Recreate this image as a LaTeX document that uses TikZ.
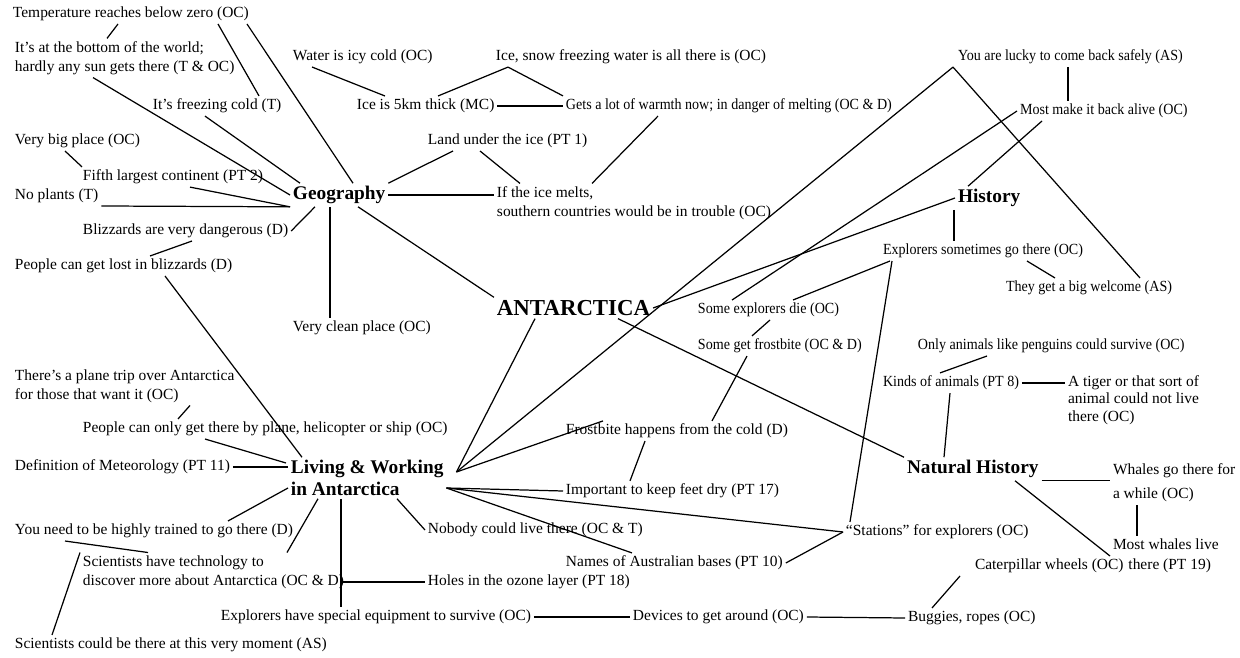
\documentclass[tikz,border=0pt]{standalone}
\usepackage{fontspec}
\setmainfont{Liberation Serif}
\newfontfamily\narrowserif[FakeStretch=0.91]{Liberation Serif}
\usetikzlibrary{calc}

\begin{document}
\begin{tikzpicture}[
  x=0.02cm, y=-0.02cm,
  idea/.style={anchor=west, inner sep=1.5pt, align=left, font=\fontsize{8.8}{10.8}\selectfont},
  slim/.style={idea, font=\narrowserif\fontsize{8.8}{10.8}\selectfont},
  topic/.style={idea, font=\fontsize{11}{12.5}\selectfont\bfseries},
  core/.style={idea, font=\fontsize{13}{15}\selectfont\bfseries},
  link/.style={line width=0.7pt},
]
\useasboundingbox (0,0) rectangle (1240,658);
% main topics
\node[core] (ant) at (494,308) {ANTARCTICA};
\node[topic] (geo) at (290,195) {Geography};
\node[topic] (hist) at (955,198) {History};
\node[topic] (liv) at (288,478) {Living \& Working\\in Antarctica};
\node[topic] (nat) at (904,469) {Natural History};
% geography
\node[idea] (t1) at (10,14) {Temperature reaches below zero (OC)};
\node[idea] (t2) at (12,58) {It's at the bottom of the world;\\hardly any sun gets there (T \& OC)};
\node[idea] (t3) at (150,106) {It's freezing cold (T)};
\node[idea] (t4) at (290,57) {Water is icy cold (OC)};
\node[idea] (t5) at (493,57) {Ice, snow freezing water is all there is (OC)};
\node[idea] (t6) at (354,106) {Ice is 5km thick (MC)};
\node[slim] (t7) at (563,106) {Gets a lot of warmth now; in danger of melting (OC \& D)};
\node[idea] (t8) at (425,141) {Land under the ice (PT 1)};
\node[idea] (t9) at (494,203) {If the ice melts,\\southern countries would be in trouble (OC)};
\node[idea] (t10) at (12,141) {Very big place (OC)};
\node[idea] (t11) at (80,177) {Fifth largest continent (PT 2)};
\node[idea] (t12) at (12,196) {No plants (T)};
\node[idea] (t13) at (80,231) {Blizzards are very dangerous (D)};
\node[idea] (t14) at (12,266) {People can get lost in blizzards (D)};
\node[idea] (t15) at (290,328) {Very clean place (OC)};
% history
\node[slim] (t16) at (955,57) {You are lucky to come back safely (AS)};
\node[slim] (t17) at (1017,111) {Most make it back alive (OC)};
\node[slim] (t18) at (880,251) {Explorers sometimes go there (OC)};
\node[slim] (t19) at (1003,288) {They get a big welcome (AS)};
\node[slim] (t20) at (695,310) {Some explorers die (OC)};
\node[slim] (t21) at (695,346) {Some get frostbite (OC \& D)};
% natural history
\node[slim] (t22) at (915,346) {Only animals like penguins could survive (OC)};
\node[slim] (t23) at (880,383) {Kinds of animals (PT 8)};
\node[idea, font=\fontsize{8.8}{10}\selectfont] (t24) at (1065,400) {A tiger or that sort of\\animal could not live\\there (OC)};
\node[idea, font=\fontsize{8.8}{13.6}\selectfont] (t25) at (1110,483) {Whales go there for\\a while (OC)};
\node[idea, font=\fontsize{8.8}{11.3}\selectfont] (t26) at (1110,556) {Most whales live\\\hspace*{1em}there (PT 19)};
% living and working
\node[idea] (t27) at (972,566) {Caterpillar wheels (OC)};
\node[idea] (t28) at (905,618) {Buggies, ropes (OC)};
\node[idea] (t29) at (630,617) {Devices to get around (OC)};
\node[idea] (t30) at (218,617) {Explorers have special equipment to survive (OC)};
\node[idea] (t31) at (425,582) {Holes in the ozone layer (PT 18)};
\node[idea] (t32) at (563,563) {Names of Australian bases (PT 10)};
\node[idea] (t33) at (843,532) {``Stations'' for explorers (OC)};
\node[idea] (t34) at (425,530) {Nobody could live there (OC \& T)};
\node[idea] (t35) at (563,491) {Important to keep feet dry (PT 17)};
\node[idea] (t36) at (563,431) {Frostbite happens from the cold (D)};
\node[idea] (t37) at (12,467) {Definition of Meteorology (PT 11)};
\node[idea] (t38) at (80,429) {People can only get there by plane, helicopter or ship (OC)};
\node[idea] (t39) at (12,386) {There's a plane trip over Antarctica\\for those that want it (OC)};
\node[idea] (t40) at (12,531) {You need to be highly trained to go there (D)};
\node[idea] (t41) at (80,572) {Scientists have technology to\\discover more about Antarctica (OC \& D)};
\node[idea] (t42) at (12,645) {Scientists could be there at this very moment (AS)};
\coordinate (livA) at ($(liv.east)+(10,-6)$);
\coordinate (livB) at ($(liv.east)+(0,10)$);

% geography links
\draw[link] (t1.south -| 118,0) -- (t2.north -| 107,0);
\draw[link] (t1.south -| 218,0) -- (t3.north -| 259,0);
\draw[link] (t1.south -| 247,0) -- (geo.north -| 353,0);
\draw[link] (t2.south -| 93,0) -- (geo.west);
\draw[link] (t3.south -| 205,0) -- (geo.north -| 300,0);
\draw[link] (t4.south -| 312,0) -- (t6.north -| 385,0);
\draw[link] (t5.south -| 508,0) -- (t6.north -| 438,0);
\draw[link] (t5.south -| 508,0) -- (t7.north west);
\draw[link] (t6.east) -- (t7.west);
\draw[link] (t8.south -| 453,0) -- (geo.north east);
\draw[link] (t8.south -| 480,0) -- (t9.north -| 520,0);
\draw[link] (geo.east) -- (geo.east -| t9.west);
\draw[link] (t9.north -| 592,0) -- (t7.south -| 658,0);
\draw[link] (t10.south -| 65,0) -- (t11.north -| 82,0);
\draw[link] (t11.south -| 190,0) -- (geo.south west);
\draw[link] (t12.south east) -- (geo.south west);
\draw[link] (t13.east) -- (geo.south -| 315,0);
\draw[link] (t13.south -| 192,0) -- (t14.north -| 150,0);
\draw[link] (t14.south -| 165,0) -- (liv.north -| 302,0);
\draw[link] (geo.south -| 330,0) -- (t15.north -| 330,0);
\draw[link] (geo.south -| 358,0) -- (ant.north west);
% history links
\draw[link] (hist.west) -- (ant.east);
\draw[link] (t16.south -| 953,0) -- (livA);
\draw[link] (t16.south -| 953,0) -- (t19.north -| 1140,0);
\draw[link] (t16.south -| 1068,0) -- (t17.north -| 1068,0);
\draw[link] (t17.south -| 1042,0) -- (hist.north -| 968,0);
\draw[link] (t17.west) -- (t20.north -| 732,0);
\draw[link] (hist.south -| 954,0) -- (t18.north -| 954,0);
\draw[link] (t18.south -| 1027,0) -- (t19.north -| 1055,0);
\draw[link] (t18.south -| 892,0) -- (t33.north -| 850,0);
\draw[link] (t18.south -| 890,0) -- (t20.north -| 793,0);
\draw[link] (t20.south -| 770,0) -- (t21.north -| 752,0);
\draw[link] (t21.south -| 747,0) -- (t36.north -| 712,0);
% natural history links
\draw[link] (ant.south -| 618,0) -- (nat.north west);
\draw[link] (t22.south -| 987,0) -- (t23.north -| 940,0);
\draw[link] (t23.east) -- (t23.east -| t24.west);
\draw[link] (t23.south -| 950,0) -- (nat.north -| 944,0);
\draw[link] (nat.south east) -- (nat.south east -| t25.west);
\draw[link] (t25.south -| 1137,0) -- (t26.north -| 1137,0);
\draw[link] (nat.south -| 1015,0) -- (t26.west);
% living and working links
\draw[link] (ant.south -| 535,0) -- (livA);
\draw[link] (t36.north -| 603,0) -- (livA);
\draw[link] (t36.south -| 645,0) -- (t35.north -| 630,0);
\draw[link] (livB) -- (t35.west);
\draw[link] (livB) -- (t33.west);
\draw[link] (livB) -- (t32.north -| 632,0);
\draw[link] (t33.west) -- (t32.east);
\draw[link] (liv.south -| 397,0) -- (t34.west);
\draw[link] (liv.south -| 341,0) -- (t30.north -| 341,0);
\draw[link] (t31.west -| 341,0) -- (t31.west);
\draw[link] (liv.south -| 318,0) -- (t41.north -| 287,0);
\draw[link] (t30.east) -- (t29.west);
\draw[link] (t29.east) -- (t28.west);
\draw[link] (t27.south -| 960,0) -- (t28.north -| 932,0);
\draw[link] (t37.east) -- ($(liv.west)+(0,-11)$);
\draw[link] (t38.south -| 205,0) -- ($(liv.west)+(-2,-15)$);
\draw[link] (t39.south -| 190,0) -- (t38.north -| 178,0);
\draw[link] (t40.north -| 228,0) -- ($(liv.west)+(0,10)$);
\draw[link] (t40.south -| 65,0) -- (t41.north -| 148,0);
\draw[link] (t41.north west) -- (t42.north -| 52,0);
\end{tikzpicture}
\end{document}
